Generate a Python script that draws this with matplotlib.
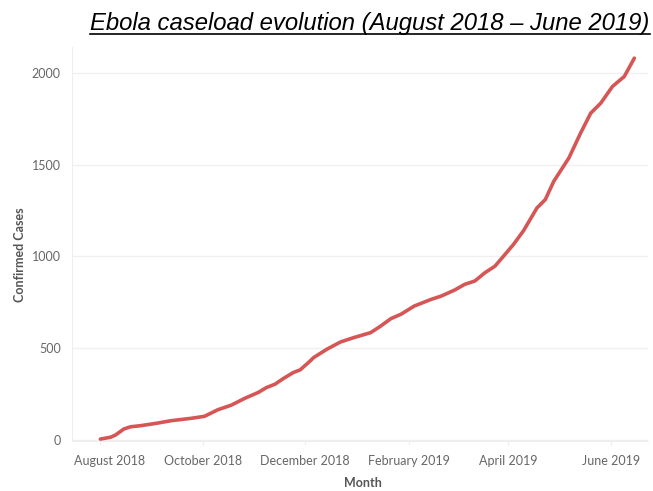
import matplotlib
matplotlib.use("Agg")
import matplotlib.pyplot as plt
import matplotlib.transforms as mtransforms
from matplotlib.lines import Line2D
import pandas as pd

# cumulative confirmed cases
dates = ["2018-08-01", "2018-08-07", "2018-08-10", "2018-08-15", "2018-08-19",
         "2018-08-25", "2018-09-04", "2018-09-12", "2018-09-24", "2018-10-02",
         "2018-10-06", "2018-10-10", "2018-10-18", "2018-10-26", "2018-11-03",
         "2018-11-08", "2018-11-13", "2018-11-18", "2018-11-24", "2018-11-28",
         "2018-12-04", "2018-12-06", "2018-12-14", "2018-12-22", "2018-12-30",
         "2019-01-09", "2019-01-15", "2019-01-21", "2019-01-27", "2019-02-04",
         "2019-02-14", "2019-02-20", "2019-02-28", "2019-03-06", "2019-03-12",
         "2019-03-18", "2019-03-24", "2019-03-30", "2019-04-04", "2019-04-10",
         "2019-04-18", "2019-04-23", "2019-04-28", "2019-05-07", "2019-05-14",
         "2019-05-20", "2019-05-26", "2019-06-02", "2019-06-09", "2019-06-15"]
cases = [5, 15, 27, 60, 72, 78, 92, 105, 118, 129,
         147, 165, 190, 227, 259, 286, 304, 335, 368, 382,
         431, 449, 495, 534, 558, 585, 621, 661, 685, 730,
         766, 784, 817, 848, 866, 911, 947, 1011, 1065, 1140,
         1264, 1310, 1409, 1536, 1672, 1780, 1835, 1926, 1980, 2080]

tick_dates = ["2018-08-01", "2018-10-01", "2018-12-01",
              "2019-02-01", "2019-04-01", "2019-06-01"]
tick_labels = ["August 2018", "October 2018", "December 2018",
               "February 2019", "April 2019", "June 2019"]
y_ticks = [0, 500, 1000, 1500, 2000]

fig = plt.figure(figsize=(6.53, 4.91), dpi=100)
ax = fig.add_axes([0.110, 0.102, 0.882, 0.802])

ax.plot(pd.to_datetime(dates), cases, color="#d65656", lw=2.6,
        solid_capstyle="round", solid_joinstyle="round")

ax.set_xlim(pd.Timestamp("2018-07-15"), pd.Timestamp("2019-06-23"))
ax.set_ylim(-5, 2140)

ax.set_xticks(pd.to_datetime(tick_dates))
ax.set_xticklabels(tick_labels, fontfamily="Lato", fontsize=9, color="#666666")
ax.set_yticks(y_ticks)
ax.set_yticklabels([str(v) for v in y_ticks], fontfamily="Lato", fontsize=9,
                   color="#666666")
ax.tick_params(axis="x", length=3, color="#eeeeee", pad=7)
ax.tick_params(axis="y", length=0, pad=8)

# nudge the first month label inwards like the original
lab0 = ax.get_xticklabels()[0]
lab0.set_transform(lab0.get_transform() +
                   mtransforms.ScaledTranslation(9 / 100, 0, fig.dpi_scale_trans))

ax.grid(axis="y", color="#f0f0f0", lw=1)
ax.set_axisbelow(True)
for s in ["top", "right"]:
    ax.spines[s].set_visible(False)
for s in ["left", "bottom"]:
    ax.spines[s].set_color("#eeeeee")

ax.set_xlabel("Month", fontfamily="Lato", fontsize=9, fontweight="bold",
              color="#555555")
ax.set_ylabel("Confirmed Cases", fontfamily="Lato", fontsize=9, fontweight="bold",
              color="#555555")
ax.xaxis.set_label_coords(0.505, -0.092)
ax.yaxis.set_label_coords(-0.08, 0.472)

title = fig.text(0.995, 0.953, "Ebola caseload evolution (August 2018 \u2013 June 2019)",
                 ha="right", va="center", fontfamily="Liberation Sans",
                 fontstyle="italic", fontsize=17.2, color="black")

# underline the title
fig.canvas.draw()
bb = title.get_window_extent().transformed(fig.transFigure.inverted())
fig.lines.append(Line2D([bb.x0, bb.x1], [bb.y0 + 0.002, bb.y0 + 0.002],
                        transform=fig.transFigure, color="black", lw=1.2))

fig.savefig("out.png", dpi=100)
